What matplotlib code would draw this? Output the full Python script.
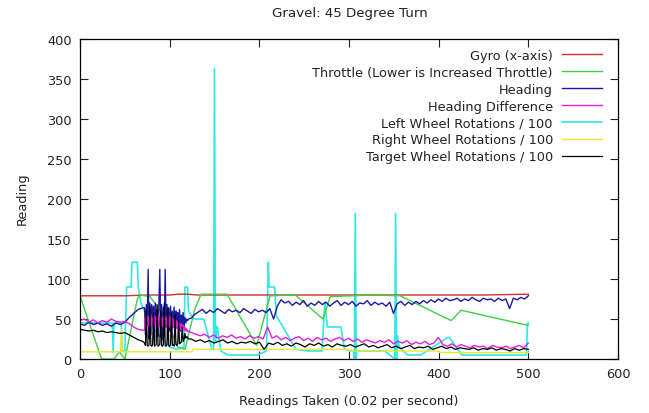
import numpy as np
import matplotlib
matplotlib.use("Agg")
import matplotlib.pyplot as plt

# readings (x) and values (y)
gyro_x = [0, 25, 50, 75, 100, 110, 120, 130, 150, 175, 200, 250, 300, 350, 400, 450, 500]
gyro_y = [79, 79, 79, 80, 80, 81, 81, 80, 80, 80, 80, 80, 80, 80, 80, 80, 81]

throttle_x = [0, 24, 38, 44, 50, 64, 67, 78, 95, 109, 117, 128, 135, 164, 197, 212, 240, 271, 279,
              327, 357, 414, 425, 460, 500]
throttle_y = [79, 0, 0, 9, 0, 75, 80, 78, 52, 15, 12, 62, 81, 81, 17, 79, 80, 50, 78,
              80, 79, 48, 61, 52, 42]

# noisy series come in three parts: readings 0-70, 72-121 (every reading), 124-500
heading_a = [44, 42, 46, 43, 45, 42, 44, 41, 45, 43, 46, 52, 57, 62, 64]
heading_b = [64, 30, 68, 45, 112, 25, 70, 30, 68, 44, 66, 22, 70, 42, 62, 28, 70, 112, 38, 68,
             24, 65, 30, 112, 40, 68, 22, 64, 35, 66, 28, 60, 40, 65, 30, 60, 44, 58, 32, 62,
             35, 55, 42, 58, 40, 52, 45, 50, 48, 50]
heading_c = [51, 56, 59, 62, 57, 61, 58, 63, 60, 57, 62, 59, 61, 58, 63, 60, 57, 62, 59, 61,
             58, 63, 50, 66, 74, 70, 72, 67, 71, 68, 73, 66, 70, 67, 72, 68, 71, 66, 70, 73,
             67, 71, 68, 72, 66, 70, 69, 73, 67, 71, 68, 70, 66, 71, 57, 69, 72, 67, 71, 68,
             72, 69, 73, 70, 74, 71, 75, 72, 76, 73, 74, 76, 72, 75, 73, 77, 74, 72, 76, 74,
             75, 72, 76, 73, 75, 63, 76, 74, 77, 75, 79]

diff_a = [48, 50, 46, 49, 45, 48, 46, 50, 47, 46, 47, 44, 40, 37, 36]
diff_b = [36, 52, 40, 54, 41, 53, 39, 55, 40, 52, 38, 54, 41, 53, 39, 55, 40, 54, 40, 52,
          41, 54, 39, 53, 40, 52, 39, 54, 40, 52, 38, 51, 39, 50, 40, 48, 38, 47, 39, 45,
          37, 44, 38, 42, 36, 40, 35, 38, 34, 35]
diff_c = [33, 31, 29, 31, 27, 30, 26, 29, 27, 30, 26, 28, 25, 29, 26, 28, 25, 40, 26, 29,
          24, 27, 23, 26, 28, 23, 26, 22, 27, 24, 26, 22, 25, 27, 23, 26, 22, 25, 21, 24,
          22, 20, 23, 21, 24, 19, 22, 20, 23, 18, 21, 19, 22, 18, 20, 27, 18, 16, 19, 15,
          18, 16, 14, 17, 15, 16, 13, 17, 15, 14, 16, 13, 15, 17, 14, 20]

target_a = [37, 36, 35, 36, 34, 35, 33, 34, 33, 32, 33, 30, 27, 24, 22]
target_b = [20, 17, 62, 17, 16, 18, 66, 17, 16, 18, 58, 16, 17, 18, 68, 16, 17, 18, 60, 17,
            16, 18, 70, 17, 16, 18, 64, 17, 16, 18, 58, 17, 18, 16, 55, 18, 17, 19, 48, 19,
            20, 21, 40, 22, 24, 32, 26, 28, 27, 25]
target_c = [25, 22, 24, 21, 23, 20, 22, 24, 20, 22, 19, 21, 20, 22, 19, 21, 12, 20, 18, 21,
            17, 19, 16, 20, 18, 15, 19, 17, 20, 16, 18, 15, 19, 17, 16, 18, 15, 17, 19, 15,
            17, 14, 16, 18, 14, 16, 13, 15, 17, 13, 15, 14, 16, 12, 14, 16, 13, 15, 12, 14,
            13, 12, 14, 11, 13, 12, 14, 11, 13, 12, 10, 13, 11, 13, 12]

left_x = [0, 36, 37, 38, 46, 47, 50, 52, 57, 58, 64, 65, 68, 80, 100, 108, 116, 117, 120, 121,
          127, 138, 147, 149, 150, 151, 153, 157, 165, 190, 198, 208, 209, 210, 211, 217,
          219, 241, 255, 270, 273, 276, 286, 291, 295, 305, 306, 307, 308, 309, 340, 351,
          352, 353, 354, 356, 365, 380, 410, 412, 424, 426, 440, 498, 499, 500]
left_y = [45, 45, 8, 45, 45, 10, 10, 90, 90, 121, 121, 90, 70, 40, 15, 12, 15, 90, 90, 60,
          50, 50, 12, 12, 363, 20, 41, 10, 5, 5, 5, 10, 60, 121, 90, 90,
          54, 12, 10, 10, 71, 40, 40, 40, 12, 10, 0, 182, 0, 10, 10, 0,
          182, 0, 29, 15, 5, 5, 27, 27, 8, 5, 5, 5, 45, 45]

right_x = [0, 45, 46, 47, 125, 126, 300, 301, 400, 401, 500]
right_y = [9, 9, 37, 9, 9, 12, 12, 10, 10, 8, 8]

labels = ["Gyro (x-axis)", "Throttle (Lower is Increased Throttle)", "Heading",
          "Heading Difference", "Left Wheel Rotations / 100", "Right Wheel Rotations / 100",
          "Target Wheel Rotations / 100"]
colors = ["#d03030", "#40d040", "#1a1aa0", "#e020e0", "#30e8e8", "#e8e830", "#000000"]


def reading_positions(a, b, c):
    # the reading index for every value of the three parts
    return np.concatenate([np.linspace(0, 70, len(a)),
                           np.arange(72, 72 + len(b)),
                           np.linspace(124, 500, len(c))])


heading_x = reading_positions(heading_a, heading_b, heading_c)
diff_x = reading_positions(diff_a, diff_b, diff_c)
target_x = reading_positions(target_a, target_b, target_c)

fig = plt.figure(figsize=(6.49, 4.14), dpi=100)
ax = fig.add_axes([80 / 649, 54 / 414, 538 / 649, 320 / 414])

ax.plot(gyro_x, gyro_y, color=colors[0], lw=1, label=labels[0])
ax.plot(throttle_x, throttle_y, color=colors[1], lw=1, label=labels[1])
ax.plot(left_x, left_y, color=colors[4], lw=1.2, label=labels[4], zorder=1.9)
ax.plot(heading_x, heading_a + heading_b + heading_c, color=colors[2], lw=1, label=labels[2])
ax.plot(diff_x, diff_a + diff_b + diff_c, color=colors[3], lw=1, label=labels[3])
ax.plot(right_x, right_y, color=colors[5], lw=1, label=labels[5])
ax.plot(target_x, target_a + target_b + target_c, color=colors[6], lw=0.9, label=labels[6])

ax.set_xlim(0, 600)
ax.set_ylim(0, 400)
ax.set_xticks(range(0, 601, 100))
ax.set_yticks(range(0, 401, 50))
ax.tick_params(direction="in", length=6, top=True, right=True, labelsize=9.3,
               colors="#222222", pad=6)
for s in ax.spines.values():
    s.set_linewidth(0.9)

fig.text(350 / 649, 1 - 14 / 414, "Gravel: 45 Degree Turn", ha="center", va="center",
         fontsize=9.6, color="#222222")
fig.text(22 / 649, 1 - 199 / 414, "Reading", ha="center", va="center", rotation=90,
         fontsize=9.3, color="#222222")
fig.text(349 / 649, 1 - 402 / 414, "Readings Taken (0.02 per second)", ha="center",
         va="center", fontsize=9.3, color="#222222")

# keep the legend in the order of the reference
handles, names = ax.get_legend_handles_labels()
order = [names.index(lab) for lab in labels]
ax.legend([handles[i] for i in order], [names[i] for i in order],
          loc="upper right", bbox_to_anchor=(602 / 649, 1 - 50 / 414),
          bbox_transform=fig.transFigure, markerfirst=False, frameon=False,
          fontsize=9.3, handlelength=3.1, handletextpad=0.7, labelspacing=0.3,
          borderpad=0, borderaxespad=0, labelcolor="#222222")

fig.savefig("out.png", dpi=100)
